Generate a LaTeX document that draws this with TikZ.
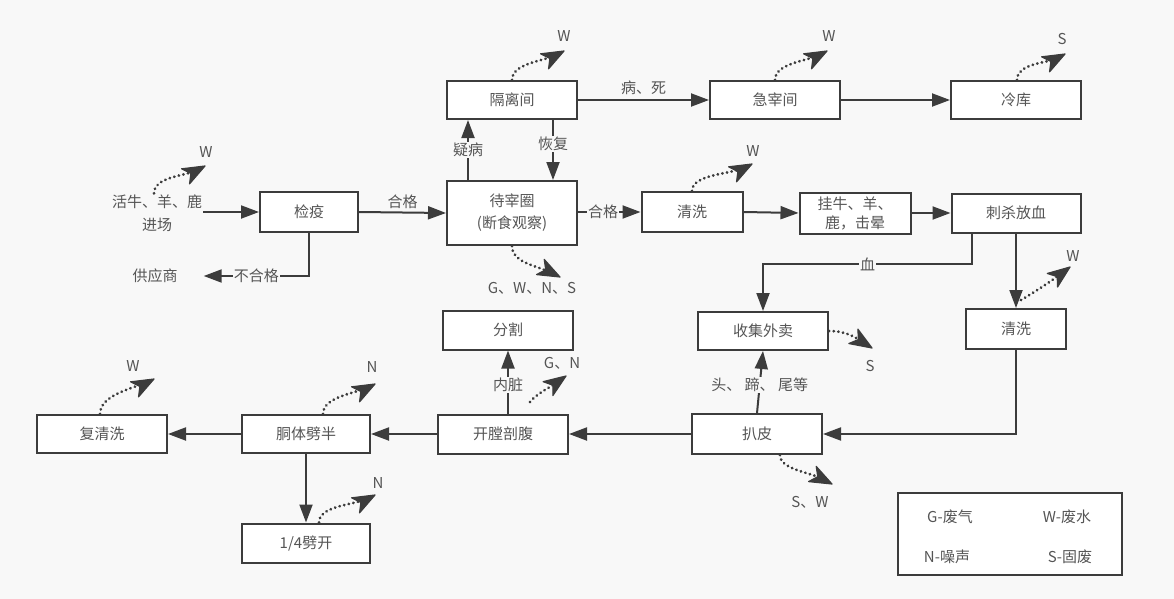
\documentclass[tikz,border=0pt]{standalone}
\usepackage{fontspec}
\setmainfont{Noto Sans CJK SC}
\usetikzlibrary{arrows.meta}
\definecolor{bg}{RGB}{248,248,248}
\definecolor{ln}{RGB}{60,60,60}
\definecolor{tx}{RGB}{85,85,85}
\begin{document}
\begin{tikzpicture}[x=1pt,y=-1pt,
  box/.style={draw=ln,line width=2pt,fill=white,minimum width=130pt,minimum height=38pt,inner sep=0pt,font=\fontsize{15}{20}\selectfont,text=tx,align=center},
  lbl/.style={font=\fontsize{15}{20}\selectfont,text=tx,inner sep=1pt},
  lblf/.style={lbl,fill=bg},
  conn/.style={draw=ln,line width=2pt,-{Triangle[length=18pt,width=13pt]}},
  emdot/.style={draw=ln,line width=3pt,dash pattern=on 0.1pt off 4.6pt,line cap=round,shorten >=14pt},
  jet/.pic={\filldraw[ln,line width=1.2pt,line join=round] (0,0) -- (-22,-8.5) -- (-16,0) -- (-22,8.5) -- cycle;},
]
\fill[bg] (0,0) rectangle (1174,599);
\useasboundingbox (0,0) rectangle (1174,599);

% boxes
\node[box] (gl) at (512,100) {隔离间};
\node[box] (jz) at (775,100) {急宰间};
\node[box] (lk) at (1016,100) {冷库};
\node[box,minimum width=98pt,minimum height=40pt] (jy) at (309,212) {检疫};
\node[box,minimum height=64pt,font=\fontsize{15}{22}\selectfont] (dz) at (512,213) {待宰圈\\(断食观察)};
\node[box,minimum width=101pt,minimum height=40pt] (qx1) at (692,212) {清洗};
\node[box,minimum width=111pt,minimum height=41pt,font=\fontsize{15}{19}\selectfont] (gn) at (855,213) {挂牛、羊、\\鹿，击晕};
\node[box,minimum width=129pt,minimum height=39pt] (cs) at (1016,213) {刺杀放血};
\node[box] (sj) at (763,331) {收集外卖};
\node[box,minimum width=100pt,minimum height=40pt] (qx2) at (1016,329) {清洗};
\node[box,minimum height=40pt] (bp) at (757,434) {扒皮};
\node[box,minimum height=39pt] (fg) at (508,330) {分割};
\node[box,minimum height=39pt] (kt) at (503,434) {开膛剖腹};
\node[box,minimum width=128pt] (dt) at (306,434) {胴体劈半};
\node[box] (fq) at (102,434) {复清洗};
\node[box,minimum width=128pt,minimum height=39pt] (pk) at (306,543) {1/4劈开};

% free texts
\node[lbl,align=center,font=\fontsize{15}{23}\selectfont] (src) at (157,213) {活牛、羊、鹿\\进场};
\node[lbl] (gys) at (155,276) {供应商};

% legend
\node[draw=ln,line width=2pt,fill=white,minimum width=224pt,minimum height=82pt] (lg) at (1010,534) {};
\node[lbl] (lg1) at (950,517) {G-废气};
\node[lbl] (lg2) at (1067,517) {W-废水};
\node[lbl] (lg3) at (947,557) {N-噪声};
\node[lbl] (lg4) at (1070,557) {S-固废};

% connectors
\draw[conn] (src.east |- jy.west) -- (jy.west);
\draw[conn] (jy.east) -- node[lbl,above=2pt] {合格} (dz.west);
\draw[conn] (jy.south) |- node[lblf,pos=0.75] {不合格} ([xshift=25pt]gys.east);
\draw[conn] ([xshift=-44pt]dz.north) -- node[lblf,pos=0.5] {疑病} ([xshift=-44pt]gl.south);
\draw[conn] ([xshift=41pt]gl.south) -- node[lblf,pos=0.4] {恢复} ([xshift=41pt]dz.north);
\draw[conn] (gl.east) -- node[lbl,above=3pt] {病、死} (jz.west);
\draw[conn] (jz.east) -- (lk.west);
\draw[conn] (dz.east |- qx1.west) -- node[lblf,pos=0.4] {合格} (qx1.west);
\draw[conn] (qx1.east) -- (gn.west);
\draw[conn] (gn.east) -- (cs.west);
\draw[conn] ([xshift=-44pt]cs.south) |- node[lblf,pos=0.75] {血} ([yshift=47pt]sj.north) -- (sj.north);
\draw[conn] (cs.south) -- (qx2.north);
\draw[conn] (qx2.south) |- (bp.east);
\draw[conn] (bp.north) -- node[lblf,pos=0.45] {头、 蹄、 尾等} (sj.south);
\draw[conn] (bp.west) -- (kt.east);
\draw[conn] ([xshift=5pt]kt.north) -- node[lblf,pos=0.45] {内脏} (fg.south);
\draw[conn] (kt.west) -- (dt.east);
\draw[conn] (dt.west) -- (fq.east);
\draw[conn] (dt.south) -- (pk.north);

% emission markers: end points
\coordinate (t1) at (564,51);
\coordinate (t2) at (827,51);
\coordinate (t3) at (1065,54);
\coordinate (t4) at (205,166);
\coordinate (t5) at (752,164);
\coordinate (t6) at (560,277);
\coordinate (t7) at (1070,267);
\coordinate (t8) at (872,348);
\coordinate (t9) at (832,484);
\coordinate (t10) at (566,376);
\coordinate (t11) at (154,379);
\coordinate (t12) at (375,384);
\coordinate (t13) at (375,495);

\draw[emdot] (gl.north) .. controls +(0,-16) and +(-22,10) .. (t1);
\pic[rotate=28] at (t1) {jet};
\node[lbl] (e1) at (564,36) {W};
\draw[emdot] (jz.north) .. controls +(0,-16) and +(-22,10) .. (t2);
\pic[rotate=28] at (t2) {jet};
\node[lbl] (e2) at (829,36) {W};
\draw[emdot] ([xshift=1pt]lk.north) .. controls +(0,-16) and +(-20,9) .. (t3);
\pic[rotate=28] at (t3) {jet};
\node[lbl] (e3) at (1062,39) {S};
\draw[emdot] ([xshift=-3pt]src.north) .. controls +(0,-16) and +(-22,10) .. (t4);
\pic[rotate=28] at (t4) {jet};
\node[lbl] (e4) at (206,152) {W};
\draw[emdot] (qx1.north) .. controls +(0,-16) and +(-24,10) .. (t5);
\pic[rotate=28] at (t5) {jet};
\node[lbl] (e5) at (753,151) {W};
\draw[emdot] (dz.south) .. controls +(0,16) and +(-26,-12) .. (t6);
\pic[rotate=-27] at (t6) {jet};
\node[lbl] (e6) at (532,288) {G、W、N、S};
\draw[emdot] (1021,300) .. controls +(14,-8) and +(-16,12) .. (t7);
\pic[rotate=37] at (t7) {jet};
\node[lbl] (e7) at (1073,256) {W};
\draw[emdot] (sj.east) .. controls +(18,0) and +(-16,-10) .. (t8);
\pic[rotate=-32] at (t8) {jet};
\node[lbl] (e8) at (870,366) {S};
\draw[emdot] ([xshift=23pt]bp.south) .. controls +(0,14) and +(-24,-12) .. (t9);
\pic[rotate=-27] at (t9) {jet};
\node[lbl] (e9) at (810,502) {S、W};
\draw[emdot] (530,402) .. controls +(6,-8) and +(-14,10) .. (t10);
\pic[rotate=35] at (t10) {jet};
\node[lbl] (e10) at (562,363) {G、N};
\draw[emdot] ([xshift=-2pt]fq.north) .. controls +(0,-18) and +(-24,10) .. (t11);
\pic[rotate=28] at (t11) {jet};
\node[lbl] (e11) at (133,366) {W};
\draw[emdot] ([xshift=17pt]dt.north) .. controls +(0,-16) and +(-24,10) .. (t12);
\pic[rotate=28] at (t12) {jet};
\node[lbl] (e12) at (372,367) {N};
\draw[emdot] ([xshift=13pt]pk.north) .. controls +(0,-16) and +(-24,10) .. (t13);
\pic[rotate=28] at (t13) {jet};
\node[lbl] (e13) at (378,483) {N};
\end{tikzpicture}
\end{document}
